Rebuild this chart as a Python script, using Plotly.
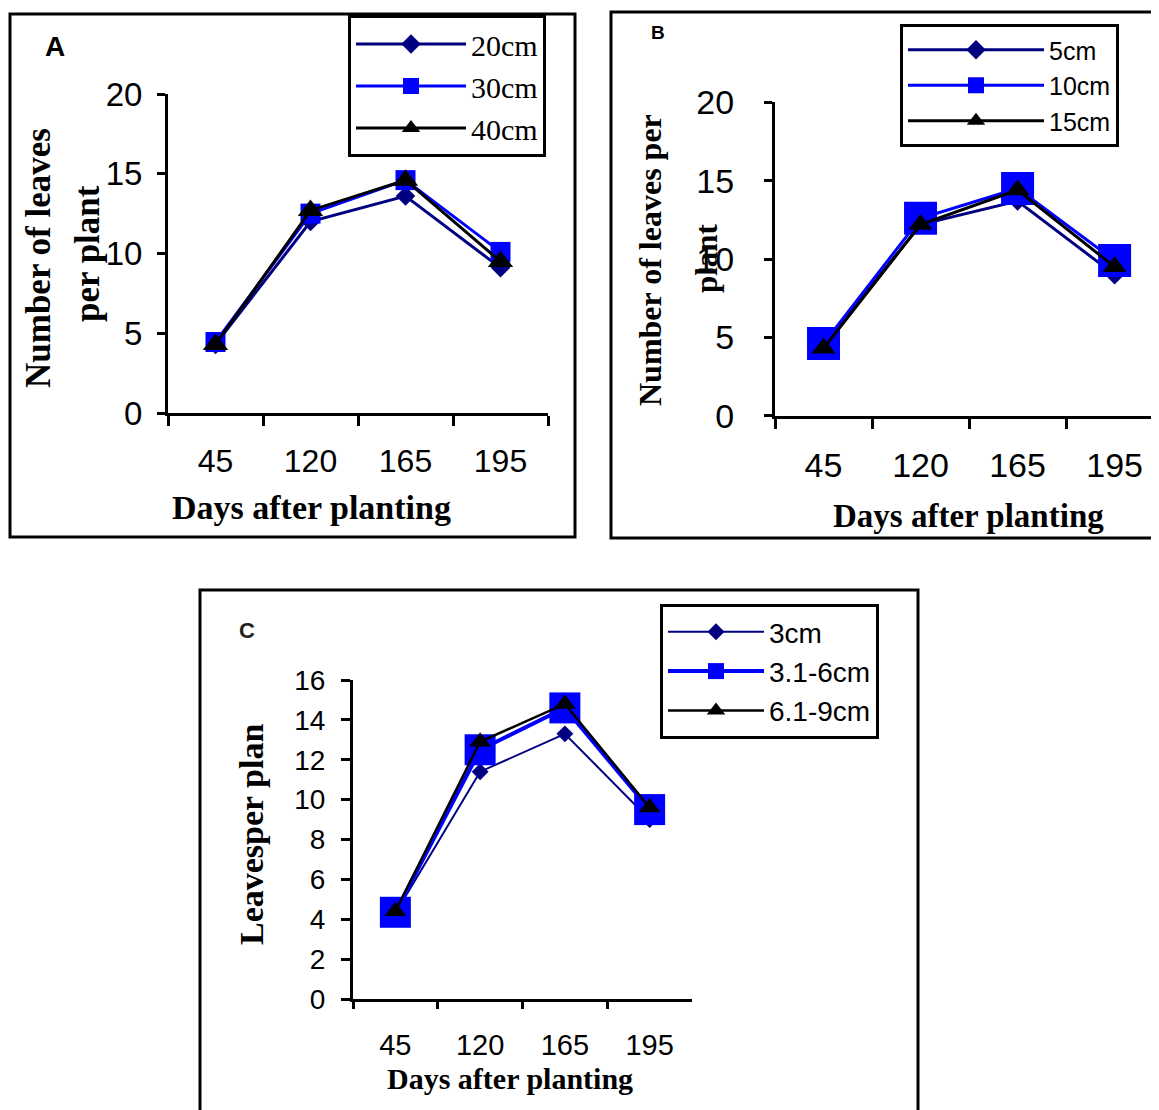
import plotly.graph_objects as go

W, H = 1159, 1110
OFF = 8  # the page body margin shifts the figure by 8 px

days = ["45", "120", "165", "195"]

# Panel A: spacing 20/30/40 cm
a_20cm = [4.3, 12.0, 13.6, 9.1]
a_30cm = [4.45, 12.5, 14.6, 10.1]
a_40cm = [4.3, 12.7, 14.6, 9.5]

# Panel B: 5/10/15 cm
b_5cm = [4.5, 12.2, 13.7, 9.0]
b_10cm = [4.6, 12.6, 14.5, 9.9]
b_15cm = [4.3, 12.2, 14.4, 9.5]

# Panel C: size classes
c_3cm = [4.3, 11.4, 13.3, 9.0]
c_3_6cm = [4.35, 12.5, 14.6, 9.5]
c_6_9cm = [4.4, 12.9, 14.8, 9.6]

labels_a = ["20cm", "30cm", "40cm"]
labels_b = ["5cm", "10cm", "15cm"]
labels_c = ["3cm", "3.1-6cm", "6.1-9cm"]

NAVY = "#000080"
BLUE = "#0000FF"
BLACK = "#000000"
SERIF = "Liberation Serif"
SANS = "Liberation Sans"


def X(px):
    return (px - OFF) / W


def Y(py):
    return 1 - (py - OFF) / H


fig = go.Figure()

# ---- Panel A ----
specs_a = [
    (a_20cm, labels_a[0], NAVY, "diamond", 15, 3),
    (a_30cm, labels_a[1], BLUE, "square", 20, 3),
    (a_40cm, labels_a[2], BLACK, "triangle-up", 22, 3),
]
for vals, name, col, sym, size, lw in specs_a:
    fig.add_trace(go.Scatter(
        x=days, y=vals, name=name, mode="lines+markers",
        line=dict(color=col, width=lw),
        marker=dict(symbol=sym, size=size, color=col),
        xaxis="x", yaxis="y", legend="legend",
    ))

# ---- Panel B ----
specs_b = [
    (b_5cm, labels_b[0], NAVY, "diamond", 15, 3),
    (b_10cm, labels_b[1], BLUE, "square", 33, 3),
    (b_15cm, labels_b[2], BLACK, "triangle-up", 21, 3),
]
for vals, name, col, sym, size, lw in specs_b:
    fig.add_trace(go.Scatter(
        x=days, y=vals, name=name, mode="lines+markers",
        line=dict(color=col, width=lw),
        marker=dict(symbol=sym, size=size, color=col),
        xaxis="x2", yaxis="y2", legend="legend2",
    ))

# ---- Panel C ----
specs_c = [
    (c_3cm, labels_c[0], NAVY, "diamond", 13, 2),
    (c_3_6cm, labels_c[1], BLUE, "square", 31, 4),
    (c_6_9cm, labels_c[2], BLACK, "triangle-up", 19, 2.5),
]
for vals, name, col, sym, size, lw in specs_c:
    fig.add_trace(go.Scatter(
        x=days, y=vals, name=name, mode="lines+markers",
        line=dict(color=col, width=lw),
        marker=dict(symbol=sym, size=size, color=col),
        xaxis="x3", yaxis="y3", legend="legend3",
    ))


def xax(domain, rng, anchor, fsize, standoff, ticklen=10):
    return dict(
        domain=domain, anchor=anchor, type="category", range=rng,
        tickson="boundaries",
        showline=True, linecolor="black", linewidth=3,
        ticks="outside", ticklen=ticklen, tickwidth=3, tickcolor="black",
        showgrid=False, zeroline=False,
        tickfont=dict(family=SANS, size=fsize, color="black"),
        ticklabelstandoff=standoff, fixedrange=True, automargin=False,
    )


def yax(domain, rng, anchor, dtick, fsize, standoff, ticklen=8):
    return dict(
        domain=domain, anchor=anchor, range=rng, dtick=dtick, tick0=0,
        showline=True, linecolor="black", linewidth=3,
        ticks="outside", ticklen=ticklen, tickwidth=3, tickcolor="black",
        showgrid=False, zeroline=False,
        tickfont=dict(family=SANS, size=fsize, color="black"),
        ticklabelstandoff=standoff, fixedrange=True, automargin=False,
    )


layout = dict(
    width=W, height=H,
    margin=dict(l=0, r=0, t=0, b=0, autoexpand=False),
    paper_bgcolor="white", plot_bgcolor="white",
    xaxis=xax([X(168), X(548)], [-0.5, 3.5], "y", 32, 18),
    yaxis=yax([Y(413), Y(94)], [0, 20], "x", 5, 33, 8),
    xaxis2=xax([X(775), 1.0], [-0.5, 3.54], "y2", 34, 17),
    yaxis2=yax([Y(415.7), Y(102.3)], [0, 20], "x2", 5, 34, 23),
    xaxis3=xax([X(353), X(692)], [-0.5, 3.5], "y3", 29, 18, ticklen=7),
    yaxis3=yax([Y(999), Y(680)], [0, 16], "x3", 2, 28, 10, ticklen=9),
    showlegend=True,
    legend=dict(
        x=X(348), y=Y(15), xanchor="left", yanchor="top",
        bordercolor="black", borderwidth=3, bgcolor="white",
        font=dict(family=SERIF, size=30, color="black"),
        itemwidth=110, tracegroupgap=0, traceorder="normal",
    ),
    legend2=dict(
        x=X(900), y=Y(24), xanchor="left", yanchor="top",
        bordercolor="black", borderwidth=3, bgcolor="white",
        font=dict(family=SANS, size=25, color="black"),
        itemwidth=136, tracegroupgap=0, traceorder="normal",
    ),
    legend3=dict(
        x=X(660), y=Y(604), xanchor="left", yanchor="top",
        bordercolor="black", borderwidth=3, bgcolor="white",
        font=dict(family=SANS, size=28, color="black"),
        itemwidth=96, tracegroupgap=0, traceorder="normal",
    ),
)
fig.update_layout(**layout)

# Panel frames
frame = dict(type="rect", xref="paper", yref="paper",
             line=dict(color="black", width=3), fillcolor="rgba(0,0,0,0)", layer="below")
fig.add_shape(x0=X(10), x1=X(575), y0=Y(537), y1=Y(14), **frame)
fig.add_shape(x0=X(611), x1=X(1180), y0=Y(538), y1=Y(12), **frame)
fig.add_shape(x0=X(200), x1=X(918), y0=Y(1130), y1=Y(590), **frame)


def ann(text, x, y, size, family, bold=True, angle=0, color="black"):
    t = f"<b>{text}</b>" if bold else text
    fig.add_annotation(
        text=t, x=X(x), y=Y(y), xref="paper", yref="paper",
        xanchor="center", yanchor="middle", showarrow=False,
        textangle=angle, font=dict(family=family, size=size, color=color),
    )


# Panel letters
ann("A", 55, 47, 28, SANS)
ann("B", 658, 33, 19, SANS)
ann("C", 247, 630, 22, SANS, color="#222222")

# Axis titles A
ann("Number of leaves", 38, 258, 35, SERIF, angle=-90)
ann("per plant", 88, 254, 35, SERIF, angle=-90)
ann("Days after planting", 311, 507, 34, SERIF)

# Axis titles B
ann("Number of leaves per", 650, 260, 32, SERIF, angle=-90)
ann("plant", 706, 258, 31, SERIF, angle=-90)
ann("Days after planting", 968, 516, 33, SERIF)

# Axis titles C
ann("Leavesper plan", 251, 835, 34, SERIF, angle=-90)
ann("Days after planting", 510, 1078, 30, SERIF)

fig.write_html("out.html")
